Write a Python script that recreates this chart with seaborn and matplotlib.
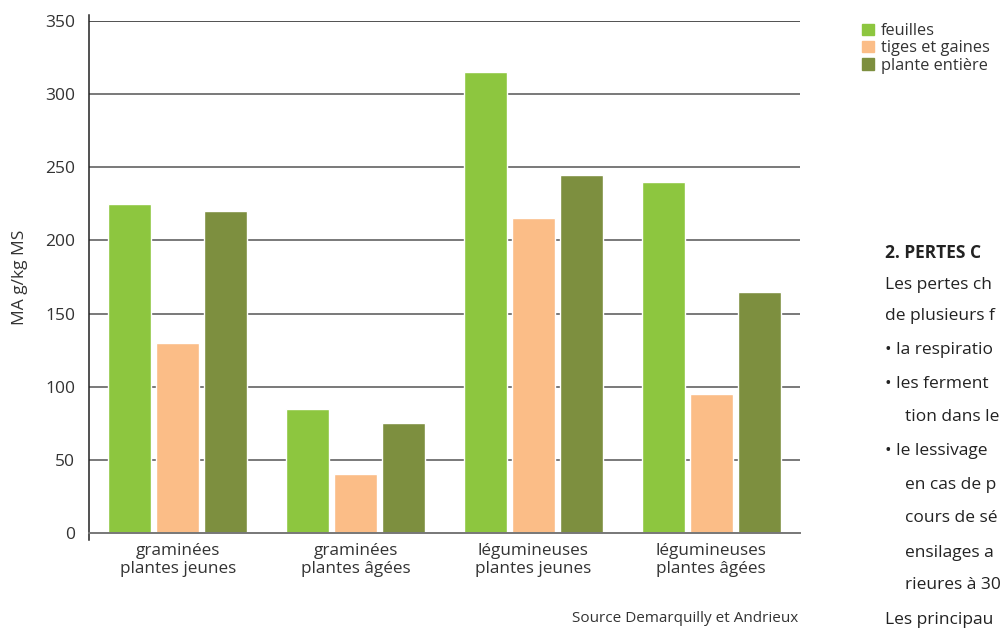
import pandas as pd
import numpy as np
import matplotlib
matplotlib.use("Agg")
import matplotlib.pyplot as plt
import seaborn as sns
from matplotlib.patches import Patch

# data (MA g/kg MS)
categories = ["graminées\nplantes jeunes", "graminées\nplantes âgées",
              "légumineuses\nplantes jeunes", "légumineuses\nplantes âgées"]
series = ["feuilles", "tiges et gaines", "plante entière"]
feuilles = [225, 85, 315, 240]
tiges = [130, 40, 215, 95]
plante = [220, 75, 245, 165]
colors = ["#8DC63F", "#FBBD87", "#7D8F3F"]

df = pd.DataFrame({
    "cat": categories * 3,
    "serie": [s for s in series for _ in categories],
    "val": feuilles + tiges + plante,
})

sns.set_style("white")
plt.rcParams["font.family"] = ["Open Sans", "DejaVu Sans"]
txt = "#333333"

fig = plt.figure(figsize=(10.04, 6.30), dpi=100)
ax = fig.add_axes([0.0886, 0.154, 0.7082, 0.8127])

sns.barplot(data=df, x="cat", y="val", hue="serie", palette=colors,
            width=0.81, gap=0.1, saturation=1, legend=False, ax=ax)

ax.set_xlim(-0.5, 3.5)
ax.set_ylim(0, 350)
ax.set_yticks(np.arange(0, 351, 50))
ax.set_xlabel("")
ax.set_ylabel("MA g/kg MS", fontsize=12.5, color=txt, labelpad=12)

for y in range(50, 351, 50):
    ax.axhline(y, color="#222222" if y == 350 else "#555555", lw=1.1, zorder=0)

for s in ["top", "right"]:
    ax.spines[s].set_visible(False)
ax.spines["bottom"].set_color("#777777")
ax.spines["bottom"].set_linewidth(1.4)
ax.spines["left"].set_color("#222222")
ax.spines["left"].set_linewidth(1.1)
ax.spines["left"].set_bounds(-5, 354)

ax.tick_params(axis="y", length=8, width=1, color="#222222", labelsize=12.5,
               labelcolor=txt, pad=2)
ax.tick_params(axis="x", length=0, labelsize=12.3, labelcolor=txt, pad=7)
ax.set_xticks([0.5, 1.5, 2.5], minor=True)
ax.tick_params(axis="x", which="minor", direction="in", length=13, width=1,
               color="#333333")
ax.annotate("", xy=(3.5, -6), xytext=(3.5, 8), xycoords="data",
            arrowprops=dict(arrowstyle="-", color="#333333", lw=1))

# legend
handles = [Patch(color=c, label=s) for c, s in zip(colors, series)]
fig.legend(handles=handles, loc="upper left", bbox_to_anchor=(0.854, 0.971),
           frameon=False, fontsize=11.8, handlelength=0.7, handleheight=0.7,
           handletextpad=0.45, labelspacing=0.08, labelcolor=txt,
           borderaxespad=0, borderpad=0.3)

fig.text(0.795, 0.013, "Source Demarquilly et Andrieux", ha="right",
         fontsize=11, color=txt)

# surrounding page text (only the part visible in the crop)
fig.text(0.881, 1 - 253 / 630, "2. PERTES C", fontsize=12.5,
         fontweight="bold", color="#222222", va="center")
lines = [
    (285, 0.881, "Les pertes ch"),
    (316, 0.881, "de plusieurs f"),
    (350, 0.881, "\u2022 la respiratio"),
    (384, 0.881, "\u2022 les ferment"),
    (417, 0.901, "tion dans le"),
    (451, 0.881, "\u2022 le lessivage"),
    (485, 0.901, "en cas de p"),
    (518, 0.901, "cours de sé"),
    (553, 0.901, "ensilages a"),
    (585, 0.901, "rieures à 30"),
    (620, 0.881, "Les principau"),
]
for y, x, t in lines:
    fig.text(x, 1 - y / 630, t, fontsize=12.5, color="#222222", va="center")

fig.savefig("out.png", dpi=100)
